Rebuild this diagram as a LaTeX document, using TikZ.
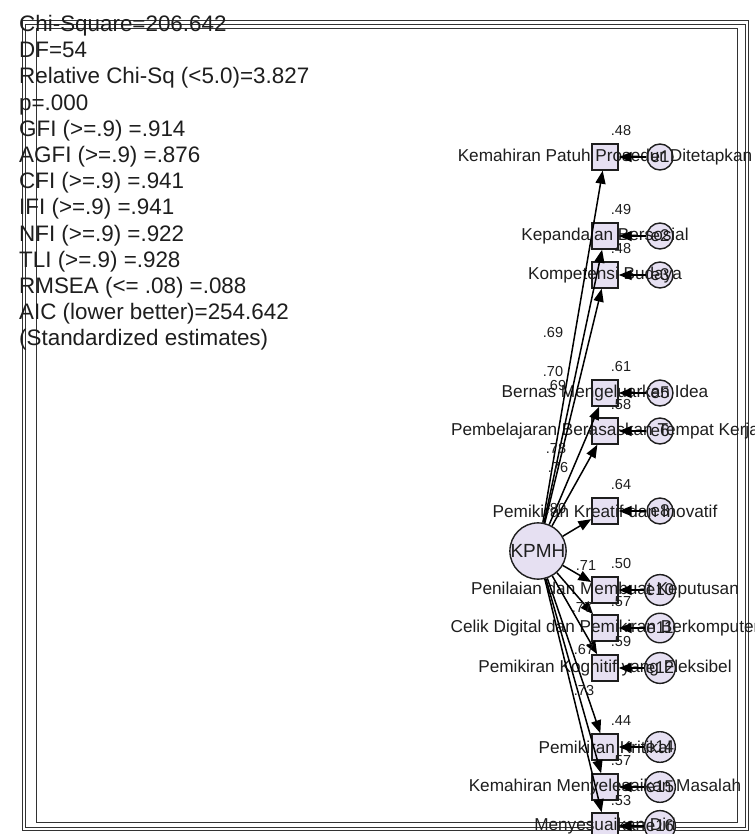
\documentclass[tikz,border=0pt]{standalone}
\usepackage{fontspec}
\setmainfont{Liberation Sans}
\usetikzlibrary{arrows.meta}
\definecolor{boxfill}{RGB}{230,224,242}
\definecolor{ink}{RGB}{30,30,30}
\definecolor{framec}{RGB}{50,50,50}
\tikzset{
  ind/.style={rectangle, draw=ink, line width=1.4pt, fill=boxfill, minimum width=26pt, minimum height=26pt, inner sep=0pt},
  err/.style={circle, draw=ink, line width=1.4pt, fill=boxfill, minimum size=26pt, inner sep=0pt, text=ink, font=\fontsize{17}{17}\selectfont},
  lat/.style={circle, draw=ink, line width=1.4pt, fill=boxfill, minimum size=49pt, inner sep=0pt, text=ink, font=\fontsize{19}{19}\selectfont},
  lbl/.style={inner sep=0pt, text=ink, font=\fontsize{17.2}{17.2}\selectfont},
  num/.style={inner sep=0pt, text=ink, font=\fontsize{14.5}{14.5}\selectfont},
  stat/.style={inner sep=0pt, anchor=base west, text=ink, font=\fontsize{22.4}{22.4}\selectfont},
  arr/.style={-{Triangle[length=13pt,width=10pt]}, line width=1.5pt, draw=black},
  fr/.style={draw=framec, line width=1pt}
}
\begin{document}
\begin{tikzpicture}[x=1pt,y=-1pt]
\useasboundingbox (0,0) rectangle (754,834);
\fill[white] (0,0) rectangle (754,834);
% frame
\draw[fr] (22,21) rectangle (748,830);
\draw[fr] (25,25) rectangle (745,827);
\draw[fr] (36,29) rectangle (737,822);
% fit statistics
\node[stat] (s1) at (19,31.5) {Chi-Square=206.642};
\node[stat] (s2) at (19,57.7) {DF=54};
\node[stat] (s3) at (19,83.9) {Relative Chi-Sq (<5.0)=3.827};
\node[stat] (s4) at (19,110.1) {p=.000};
\node[stat] (s5) at (19,136.3) {GFI (>=.9) =.914};
\node[stat] (s6) at (19,162.5) {AGFI (>=.9) =.876};
\node[stat] (s7) at (19,188.7) {CFI (>=.9) =.941};
\node[stat] (s8) at (19,214.9) {IFI (>=.9) =.941};
\node[stat] (s9) at (19,241.1) {NFI (>=.9) =.922};
\node[stat] (s10) at (19,267.3) {TLI (>=.9) =.928};
\node[stat] (s11) at (19,293.5) {RMSEA (<= .08) =.088};
\node[stat] (s12) at (19,319.7) {AIC (lower better)=254.642};
\node[stat] (s13) at (19,345.9) {(Standardized estimates)};
% latent
\node[lat] (kp) at (538,551) {KPMH};
% indicators
\foreach \i/\y in {1/157,2/236,3/275,4/393,5/431,6/511,7/590,8/628,9/668,10/747,11/787,12/826}{
  \node[ind] (r\i) at (605,\y) {};
}
% errors
\foreach \i/\y/\e in {1/157/e1,2/236/e2,3/275/e3,4/393/e5,5/431/e6,6/511/e8,7/590/e10,8/628/e11,9/668/e12,10/747/e14,11/787/e15,12/826/e16}{
  \node[err] (e\i) at (660,\y) {\e};
}
% indicator names
\node[lbl] (t1) at (605,157) {Kemahiran Patuh Prosedur Ditetapkan};
\node[lbl] (t2) at (605,236) {Kepandaian Bersosial};
\node[lbl] (t3) at (605,275) {Kompetensi Budaya};
\node[lbl] (t4) at (605,393) {Bernas Mengeluarkan Idea};
\node[lbl] (t5) at (605,431) {Pembelajaran Berasaskan Tempat Kerja};
\node[lbl] (t6) at (605,511) {Pemikiran Kreatif dan Inovatif};
\node[lbl] (t7) at (605,590) {Penilaian dan Membuat Keputusan};
\node[lbl] (t8) at (605,628) {Celik Digital dan Pemikiran Berkomputer};
\node[lbl] (t9) at (605,668) {Pemikiran Kognitif yang Fleksibel};
\node[lbl] (t10) at (605,747) {Pemikiran Kritikal};
\node[lbl] (t11) at (605,787) {Kemahiran Menyelesaikan Masalah};
\node[lbl] (t12) at (605,826) {Menyesuaikan Diri};
% arrows
\foreach \i in {1,...,12}{
  \draw[arr] (kp) -- (r\i);
  \draw[arr] (e\i) -- (r\i);
}
% squared multiple correlations
\node[num] (q1) at (621,131) {.48};
\node[num] (q2) at (621,210) {.49};
\node[num] (q3) at (621,249) {.48};
\node[num] (q4) at (621,367) {.61};
\node[num] (q5) at (621,405) {.58};
\node[num] (q6) at (621,485) {.64};
\node[num] (q7) at (621,564) {.50};
\node[num] (q8) at (621,602) {.57};
\node[num] (q9) at (621,642) {.59};
\node[num] (q10) at (621,721) {.44};
\node[num] (q11) at (621,761) {.57};
\node[num] (q12) at (621,800) {.53};
% loadings
\node[num] (w1) at (553,333) {.69};
\node[num] (w2) at (553,372) {.70};
\node[num] (w3) at (556,386) {.69};
\node[num] (w4) at (556,449) {.78};
\node[num] (w5) at (558,468) {.76};
\node[num] (w6) at (556,509) {.80};
\node[num] (w7) at (586,566) {.71};
\node[num] (w8) at (582,608) {.77};
\node[num] (w9) at (584,650) {.67};
\node[num] (w10) at (584,691) {.73};
\end{tikzpicture}
\end{document}
